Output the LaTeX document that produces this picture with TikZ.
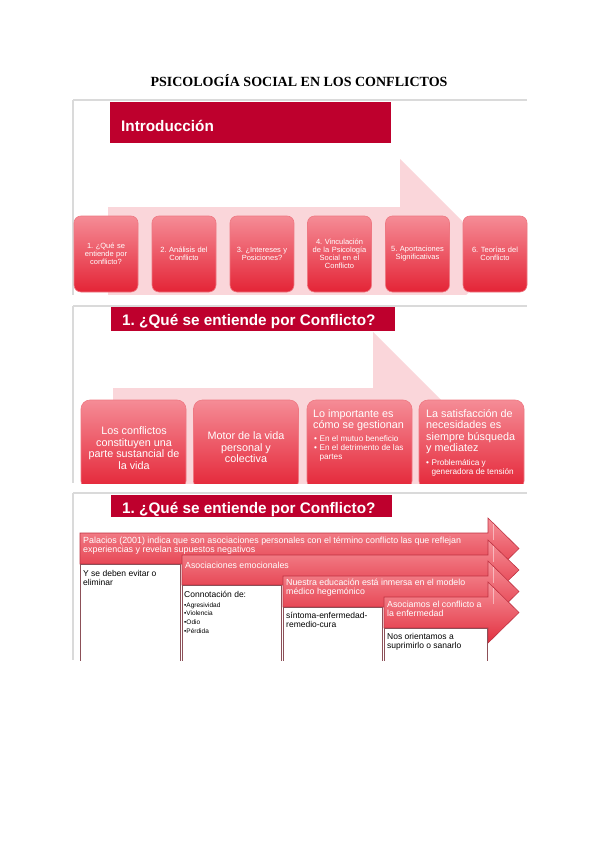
\documentclass[tikz,border=0pt]{standalone}
\usepackage{fontspec}
\setmainfont{Liberation Serif}
\setsansfont{Liberation Sans}
\frenchspacing
\definecolor{hdrred}{RGB}{190,0,45}
\definecolor{bgpink}{RGB}{250,214,218}
\definecolor{boxtop}{RGB}{245,140,150}
\definecolor{boxbot}{RGB}{228,36,54}
\definecolor{boxedge}{RGB}{238,120,130}
\definecolor{arrtop}{RGB}{246,145,153}
\definecolor{arrbot}{RGB}{226,48,64}
\definecolor{arredge}{RGB}{190,50,65}
\definecolor{wedge}{RGB}{140,80,88}
\definecolor{panelgray}{RGB}{218,218,218}
\begin{document}
\frenchspacing
\begin{tikzpicture}[x=1pt,y=-1pt,
  panelline/.style={draw=panelgray, line width=1.5pt},
  hdrbar/.style={fill=hdrred, draw=none},
  hdrtext/.style={anchor=base west, inner sep=0pt, text=white, font=\sffamily\bfseries\fontsize{15.3}{18}\selectfont},
  bgarrow/.style={fill=bgpink, draw=none},
  introbox/.style={rounded corners=7pt, draw=boxedge, line width=0.6pt, top color=boxtop, bottom color=boxbot,
     minimum width=64pt, minimum height=76pt, inner sep=0pt, text width=60pt, align=center, text=white,
     font=\sffamily\fontsize{7.5}{8}\selectfont},
  qbox/.style={rounded corners=9pt, draw=boxedge, line width=0.6pt, top color=boxtop, bottom color=boxbot,
     minimum width=105pt, minimum height=90pt, inner sep=0pt},
  ptext/.style={inner sep=0pt, text=white, font=\sffamily\fontsize{10.8}{11.5}\selectfont},
  btext/.style={inner sep=0pt, text=white, anchor=north west, align=left, font=\sffamily\fontsize{8.2}{9}\selectfont},
  parrow/.style={top color=arrtop, bottom color=arrbot, draw=arredge, line width=0.6pt},
  atext/.style={inner sep=0pt, text=white, anchor=north west, align=left, font=\sffamily\fontsize{8.8}{9.3}\selectfont},
  wbox/.style={fill=white, draw=wedge, line width=0.8pt},
  wtext/.style={inner sep=0pt, text=black, anchor=north west, align=left, font=\sffamily\fontsize{8.5}{9}\selectfont},
  stext/.style={inner sep=0pt, text=black, anchor=north west, align=left, font=\sffamily\fontsize{6.5}{8.6}\selectfont},
  hilite/.style={draw=white, draw opacity=0.45, line width=1pt}
]
\useasboundingbox (0,0) rectangle (599,848);
\fill[white] (0,0) rectangle (599,848);

% Title
\node[font=\rmfamily\bfseries\fontsize{14}{16}\selectfont, inner sep=0pt] (title) at (299,81) {PSICOLOGÍA SOCIAL EN LOS CONFLICTOS};

% ---------------- Panel 1 ----------------
\draw[panelline] (73,100) -- (527,100);
\draw[panelline] (73,100) -- (73,295);
\begin{scope}
  \clip (73,100) rectangle (527,294);
  \path[bgarrow] (108,207) -- (400,207) -- (400,159) -- (501,260) -- (400,361) -- (400,313) -- (108,313) -- cycle;
\end{scope}
\fill[hdrred] (110,102) rectangle (391,142.5);
\node[hdrtext] (h1) at (121,131.5) {Introducción};

\node[introbox] (i1) at (106,254) {1. ¿Qué se\\entiende por\\conflicto?};
\node[introbox] (i2) at (184,254) {2. Análisis del\\Conflicto};
\node[introbox] (i3) at (262,254) {3. ¿Intereses y\\Posiciones?};
\node[introbox] (i4) at (339.5,254) {4. Vinculación\\de la Psicología\\Social en el\\Conflicto};
\node[introbox] (i5) at (417.5,254) {5. Aportaciones\\Significativas};
\node[introbox] (i6) at (495,254) {6. Teorías del\\Conflicto};

% ---------------- Panel 2 ----------------
\draw[panelline] (73,306) -- (527,306);
\draw[panelline] (73,306) -- (73,483);
\begin{scope}
  \clip (73,306) rectangle (527,483);
  \path[bgarrow] (113,388) -- (373,388) -- (373,332) -- (500,459) -- (373,586) -- (373,530) -- (113,530) -- cycle;
  \node[qbox] (q1) at (133.5,445) {};
  \node[qbox] (q2) at (246,445) {};
  \node[qbox] (q3) at (359.5,445) {};
  \node[qbox] (q4) at (471.5,445) {};
\end{scope}
\fill[hdrred] (111,307) rectangle (395,331);
\node[hdrtext] (h2) at (122,325.5) {1. ¿Qué se entiende por Conflicto?};

\node[ptext, anchor=north, align=center] (q1t) at (134,426.5) {Los conflictos\\constituyen una\\parte sustancial de\\la vida};
\node[ptext, anchor=north, align=center] (q2t) at (246,431.5) {Motor de la vida\\personal y\\colectiva};
\node[ptext, anchor=north west, align=left] (q3t) at (313,409) {Lo importante es\\cómo se gestionan};
\node[btext] (q3b) at (314,435) {•\hspace{2.5pt}En el mutuo beneficio\\•\hspace{2.5pt}En el detrimento de las\\\hphantom{•\hspace{2.5pt}}partes};
\node[ptext, anchor=north west, align=left] (q4t) at (426,409) {La satisfacción de\\necesidades es\\siempre búsqueda\\y mediatez};
\node[btext] (q4b) at (426,459) {•\hspace{2.5pt}Problemática y\\\hphantom{•\hspace{2.5pt}}generadora de tensión};

% ---------------- Panel 3 ----------------
\draw[panelline] (73,493) -- (527,493);
\draw[panelline] (73,493) -- (73,660);
\fill[hdrred] (111,495) rectangle (392,517);
\node[hdrtext] (h3) at (122,513) {1. ¿Qué se entiende por Conflicto?};

\begin{scope}
  \clip (73,494) rectangle (527,660);
  \path[parrow] (80,533) -- (488,533) -- (488,518) -- (519,548.5) -- (488,579) -- (488,564) -- (80,564) -- cycle;
  \draw[hilite] (493,524) -- (493,540);
  \path[wbox] (80,564) rectangle (180,668);
  \path[parrow] (182,555) -- (488,555) -- (488,540) -- (519,570) -- (488,600) -- (488,585) -- (182,585) -- cycle;
  \draw[hilite] (493,546) -- (493,562);
  \path[wbox] (182,585) rectangle (281,668);
  \path[parrow] (283,576) -- (488,576) -- (488,561) -- (519,591.5) -- (488,622) -- (488,607) -- (283,607) -- cycle;
  \draw[hilite] (493,567) -- (493,583);
  \path[wbox] (283,607) rectangle (382,668);
  \path[parrow] (384,597) -- (488,597) -- (488,582) -- (519,612.5) -- (488,643) -- (488,628) -- (384,628) -- cycle;
  \draw[hilite] (493,588) -- (493,604);
  \path[wbox] (384,628) rectangle (487,668);
\end{scope}

\node[atext, font=\sffamily\fontsize{8.9}{9.4}\selectfont] (a1t) at (83,536.5) {Palacios (2001) indica que son asociaciones personales con el término conflicto las que reflejan\\experiencias y revelan supuestos negativos};
\node[atext] (a2t) at (185,561.5) {Asociaciones emocionales};
\node[atext] (a3t) at (286,578.5) {Nuestra educación está inmersa en el modelo\\médico hegemónico};
\node[atext] (a4t) at (387,600.5) {Asociamos el conflicto a\\la enfermedad};

\node[wtext] (w1t) at (83,570) {Y se deben evitar o\\eliminar};
\node[wtext] (w2t) at (184,591) {Connotación de:};
\node[stext] (w2s) at (184,602.3) {•Agresividad\\•Violencia\\•Odio\\•Pérdida};
\node[wtext] (w3t) at (286,612) {síntoma-enfermedad-\\remedio-cura};
\node[wtext] (w4t) at (387,633) {Nos orientamos a\\suprimirlo o sanarlo};
\end{tikzpicture}
\end{document}
